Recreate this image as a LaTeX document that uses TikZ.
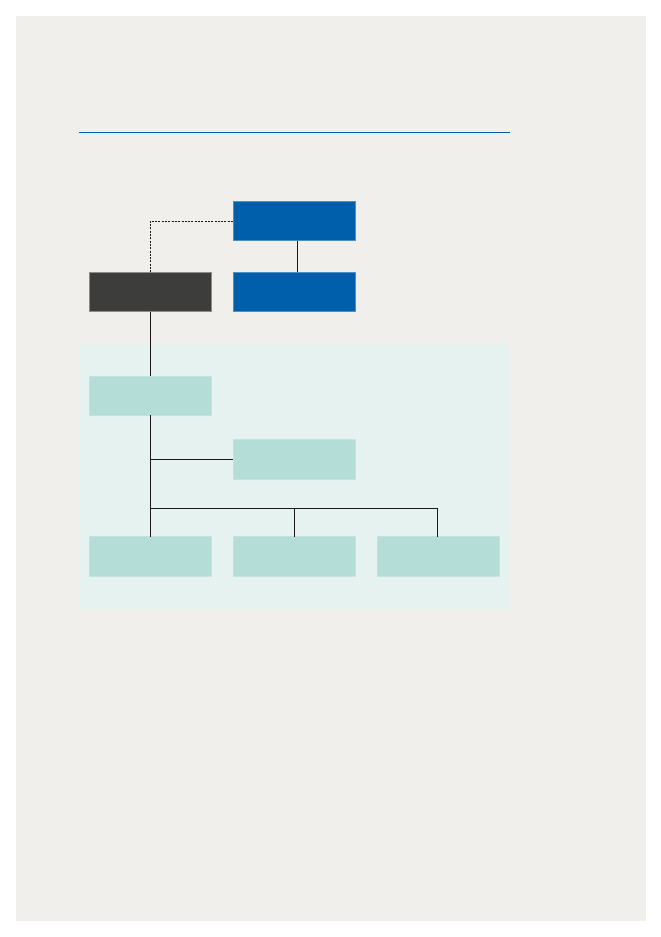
\documentclass[tikz,border=0pt]{standalone}
\begin{document}
\begin{tikzpicture}[x=1pt,y=-1pt,
  bluebox/.style={fill=boxblue,draw=boxblue!70!white,line width=0.5pt,minimum width=122pt,minimum height=39.4pt,inner sep=0pt,outer sep=0pt},
  darkbox/.style={fill=boxdark,draw=boxdark!60!white,line width=0.5pt,minimum width=122pt,minimum height=39.4pt,inner sep=0pt,outer sep=0pt},
  tealbox/.style={fill=boxteal,draw=boxteal!80!white,line width=0.5pt,minimum width=122pt,minimum height=39.4pt,inner sep=0pt,outer sep=0pt},
  conn/.style={draw=linecol,line width=0.7pt},
  dconn/.style={draw=linecol,line width=0.8pt,dash pattern=on 2pt off 1.3pt}]
\definecolor{pagecol}{HTML}{F0EFEB}
\definecolor{boxblue}{HTML}{005FAB}
\definecolor{boxdark}{HTML}{3D3D3B}
\definecolor{boxteal}{HTML}{B3DDD6}
\definecolor{panelcol}{HTML}{E6F2EF}
\definecolor{linecol}{HTML}{1A1A1A}
\useasboundingbox (0,0) rectangle (661,937);
\fill[white] (0,0) rectangle (661,937);
\fill[pagecol] (16,16) rectangle (646,921);
\draw[boxblue,line width=0.9pt] (79,132.3) -- (510,132.3);
\fill[panelcol] (79,344.3) rectangle (510,609.3);
\node[bluebox] (top) at (294,221) {};
\node[bluebox] (blue2) at (294,292) {};
\node[darkbox] (dark) at (150.3,292) {};
\node[tealbox] (a) at (150.3,395.5) {};
\node[tealbox] (b) at (294,459.2) {};
\node[tealbox] (c1) at (150.3,556.4) {};
\node[tealbox] (c2) at (294,556.4) {};
\node[tealbox] (c3) at (437.8,556.4) {};
\coordinate (bus) at (150.3,508.3);
\draw[dconn] (dark.north) |- (top.west);
\draw[conn] (top.south -| 297.3,0) -- (blue2.north -| 297.3,0);
\draw[conn] (dark.south) -- (a.north);
\draw[conn] (a.south) -- (c1.north);
\draw[conn] (a.south |- b.west) -- (b.west);
\draw[conn] (bus) -| (c3.north);
\draw[conn] (c2.north -| 294.3,0) -- (bus -| 294.3,0);
\end{tikzpicture}
\end{document}
